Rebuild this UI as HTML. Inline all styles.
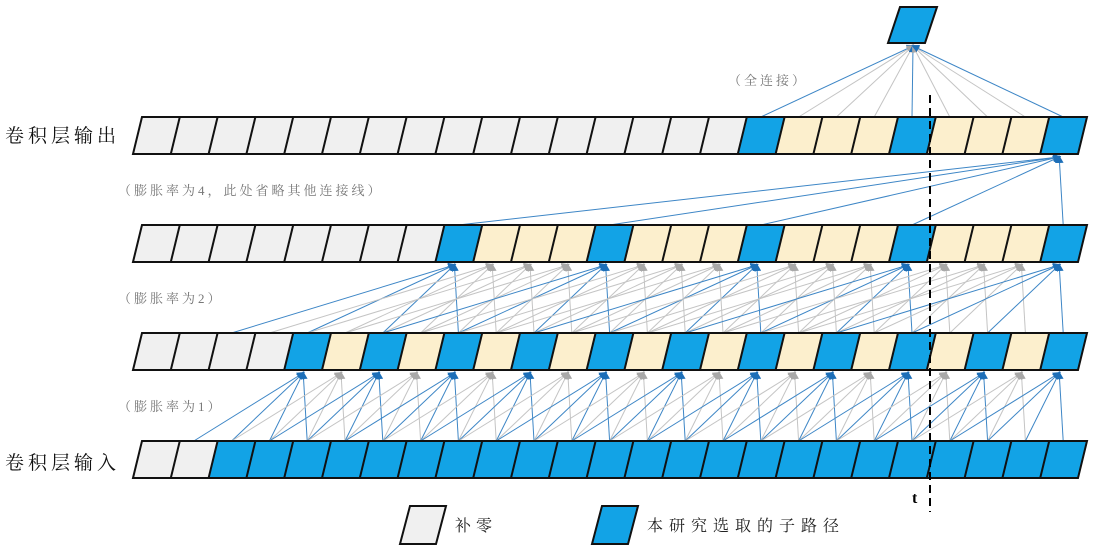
<!DOCTYPE html>
<html><head><meta charset="utf-8"><style>
html,body{margin:0;padding:0;background:#fff;width:1101px;height:552px;overflow:hidden}
svg{display:block}
text{font-family:"Liberation Serif","Noto Serif CJK SC",serif}
</style></head><body>
<svg id="s" width="1101" height="552" xmlns="http://www.w3.org/2000/svg">
<defs>
<marker id="ab" markerWidth="8" markerHeight="8" refX="6" refY="4" orient="auto" markerUnits="userSpaceOnUse"><path d="M0,0L8,4L0,8z" fill="#1d6fb8"/></marker>
<marker id="ag" markerWidth="8" markerHeight="8" refX="6" refY="4" orient="auto" markerUnits="userSpaceOnUse"><path d="M0,0L8,4L0,8z" fill="#a8a8a8"/></marker>
</defs>
<g id="lines"></g>
<g id="cells"></g>
<line x1="930" y1="95" x2="930" y2="512" stroke="#000" stroke-width="2" stroke-dasharray="8,5"/>
<text x="912" y="503" font-size="16" font-weight="bold">t</text>
<polygon points="900,7 937,7 925,43 888,43" fill="#12a3e6" stroke="#111" stroke-width="2"/>
<text x="5" y="142" font-size="19" letter-spacing="4" fill="#111">卷积层输出</text>
<text x="5" y="469" font-size="19" letter-spacing="4" fill="#111">卷积层输入</text>
<text x="118" y="195" font-size="13" letter-spacing="3" fill="#777">（膨胀率为4，此处省略其他连接线）</text>
<text x="118" y="303" font-size="13" letter-spacing="3" fill="#777">（膨胀率为2）</text>
<text x="118" y="411" font-size="13" letter-spacing="3" fill="#777">（膨胀率为1）</text>
<text x="728" y="85" font-size="13" letter-spacing="3" fill="#777">（全连接）</text>
<polygon points="410,506 446,506 436,544 400,544" fill="#f0f0f0" stroke="#111" stroke-width="2"/>
<text x="455" y="531" font-size="16" letter-spacing="5" fill="#222">补零</text>
<polygon points="602,506 638,506 628,544 592,544" fill="#12a3e6" stroke="#111" stroke-width="2"/>
<text x="647" y="531" font-size="16" letter-spacing="6" fill="#222">本研究选取的子路径</text>
</svg>
<script>
var NS="http://www.w3.org/2000/svg",W=37.8;
var rows=[
 {t:117,b:154,c:function(i){return i<16?'g':(i%4==0?'b':'y')}},
 {t:225,b:262,c:function(i){return i<8?'g':(i%4==0?'b':'y')}},
 {t:333,b:370,c:function(i){return i<4?'g':(i%2==0?'b':'y')}},
 {t:441,b:478,c:function(i){return i<2?'g':'b'}}];
var col={g:'#f0f0f0',b:'#12a3e6',y:'#fcefcd'};
var cg=document.getElementById('cells'),lg=document.getElementById('lines');
function el(p,n,a){var e=document.createElementNS(NS,n);for(var k in a)e.setAttribute(k,a[k]);p.appendChild(e);return e;}
rows.forEach(function(r){
 for(var i=0;i<25;i++){
  var x0=142+i*W,x1=133+i*W;
  el(cg,'polygon',{points:x0+','+r.t+' '+(x0+W)+','+r.t+' '+(x1+W)+','+r.b+' '+x1+','+r.b,fill:col[r.c(i)],stroke:'none'});
 }
 el(cg,'polygon',{points:'142,'+r.t+' '+(142+25*W)+','+r.t+' '+(133+25*W)+','+r.b+' 133,'+r.b,fill:'none',stroke:'#111','stroke-width':2});
 for(var i=1;i<25;i++){var x0=142+i*W,x1=133+i*W;el(cg,'line',{x1:x0,y1:r.t,x2:x1,y2:r.b,stroke:'#111','stroke-width':2});}
});
function cx(i){return 152+i*W;}
function conn(up,lo,j,src,blue){
 src.forEach(function(s){ if(s<0)return;
  el(lg,'line',{x1:cx(s)+4,y1:rows[lo].t,x2:cx(j),y2:rows[up].b+3,stroke:blue?'#3d86c6':'#c4c4c4','stroke-width':1,'marker-end':'url(#'+(blue?'ab':'ag')+')'});
 });
}
for(var j=4;j<25;j++){var b=rows[2].c(j)=='b';conn(2,3,j,[j,j-1,j-2,j-3],b);}
for(var j=8;j<25;j++){var b=rows[1].c(j)=='b';conn(1,2,j,[j,j-2,j-4,j-6],b);}
conn(0,1,24,[24,20,16,12,8],true);
for(var j=16;j<25;j++){var b=rows[0].c(j)=='b';
 el(lg,'line',{x1:cx(j)+4,y1:117,x2:913,y2:46,stroke:b?'#3d86c6':'#c4c4c4','stroke-width':1,'marker-end':'url(#'+(b?'ab':'ag')+')'});}
</script>
</body></html>
